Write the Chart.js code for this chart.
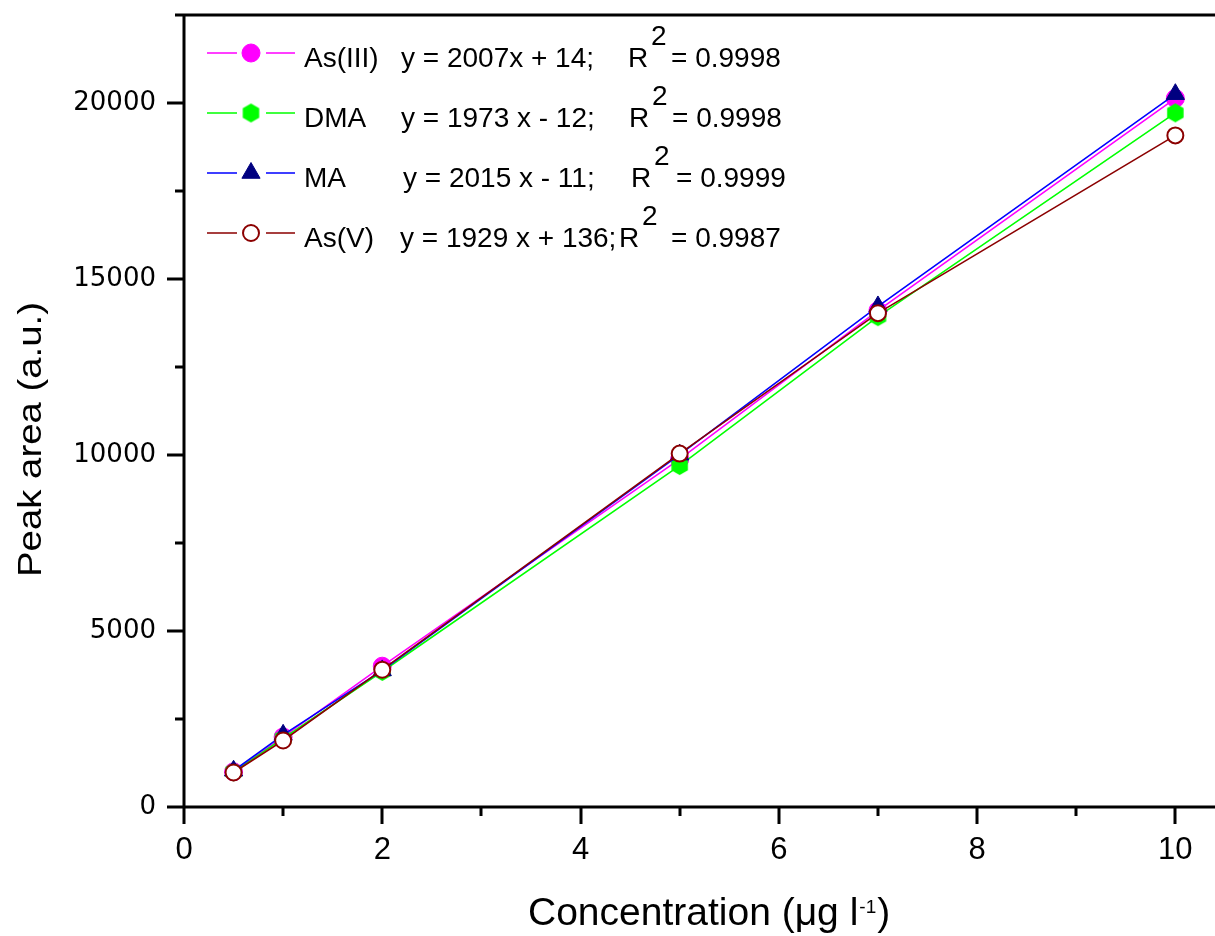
<!DOCTYPE html>
<html>
<head>
<meta charset="utf-8">
<script src="https://cdn.jsdelivr.net/npm/chart.js@4.4.1/dist/chart.umd.min.js"></script>
<style>
  html, body { margin: 0; padding: 0; background: #ffffff; overflow: hidden; }
  canvas { display: block; }
</style>
</head>
<body>
<canvas id="chart" width="1215" height="936"></canvas>
<script>
// Calibration data: peak area vs. concentration for four arsenic species
const concentrations = [0.5, 1, 2, 5, 7, 10];
const asIII = [1000, 1990, 4000, 9880, 14100, 20130];
const dma   = [1000, 1950, 3850, 9700, 13930, 19720];
const ma    = [1030, 2050, 3880, 10010, 14220, 20250];
const asV   = [980, 1890, 3900, 10040, 14030, 19080];

const seriesNames  = ['As(III)', 'DMA', 'MA', 'As(V)'];
const fitEquations = ['y = 2007x + 14;', 'y = 1973 x - 12;', 'y = 2015 x - 11;', 'y = 1929 x + 136;'];
const rSquared     = ['= 0.9998', '= 0.9998', '= 0.9999', '= 0.9987'];

const xTickValues = [0, 1, 2, 3, 4, 5, 6, 7, 8, 9, 10];
const yTickValues = [0, 2500, 5000, 7500, 10000, 12500, 15000, 17500, 20000, 22500];

const xTitleMain = 'Concentration (\u03bcg l';
const xTitleSup = '-1';
const xTitleEnd = ')';
const yTitle = 'Peak area (a.u.)';

const FONT = '"Liberation Sans", Arial, Helvetica, sans-serif';

// filled hexagon marker (pointy top) used for DMA
function hexagonMarker(r, color) {
  const c = document.createElement('canvas');
  const w = Math.ceil(2 * r * Math.cos(Math.PI / 6)) + 2;
  const h = Math.ceil(2 * r) + 2;
  c.width = w; c.height = h;
  const g = c.getContext('2d');
  g.fillStyle = color;
  g.beginPath();
  for (let i = 0; i < 6; i++) {
    const a = -Math.PI / 2 + i * Math.PI / 3;
    const px = w / 2 + r * Math.cos(a), py = h / 2 + r * Math.sin(a);
    if (i) g.lineTo(px, py); else g.moveTo(px, py);
  }
  g.closePath();
  g.fill();
  return c;
}
const hexDMA = hexagonMarker(9.5, '#00ff00');

function pts(values) {
  return concentrations.map((x, i) => ({ x: x, y: values[i] }));
}

const styles = [
  { line: '#ff00ff', fill: '#ff00ff', stroke: '#ff00ff', pointStyle: 'circle', radius: 9, bw: 1 },
  { line: '#00ff00', fill: '#00ff00', stroke: '#00ff00', pointStyle: hexDMA, radius: 9.5, bw: 0 },
  { line: '#0000ff', fill: '#000080', stroke: '#000080', pointStyle: 'triangle', radius: 10.5, bw: 1 },
  { line: '#8b0000', fill: '#ffffff', stroke: '#8b0000', pointStyle: 'circle', radius: 8, bw: 2 }
];
const seriesValues = [asIII, dma, ma, asV];

const datasets = seriesValues.map((vals, i) => ({
  label: seriesNames[i],
  data: pts(vals),
  borderColor: styles[i].line,
  borderWidth: 1.6,
  backgroundColor: styles[i].fill,
  pointBackgroundColor: styles[i].fill,
  pointBorderColor: styles[i].stroke,
  pointBorderWidth: styles[i].bw,
  pointStyle: styles[i].pointStyle,
  pointRadius: styles[i].radius,
  pointHoverRadius: styles[i].radius,
  tension: 0,
  fill: false,
  clip: false,
  order: 3 - i
}));

// frame, outward tick marks, axis titles and the in-plot legend
const decorations = {
  id: 'decorations',
  afterDraw(chart) {
    const ctx = chart.ctx;
    const { left, right, top, bottom } = chart.chartArea;
    const xs = chart.scales.x, ys = chart.scales.y;
    ctx.save();
    ctx.strokeStyle = '#000';
    ctx.lineWidth = 3;
    ctx.lineCap = 'butt';
    ctx.beginPath();
    ctx.moveTo(left - 1.5, top); ctx.lineTo(right + 5, top);
    ctx.moveTo(left, top); ctx.lineTo(left, bottom + 1.5);
    ctx.moveTo(left - 1.5, bottom); ctx.lineTo(right + 5, bottom);
    xTickValues.forEach(v => {
      const p = Math.round(xs.getPixelForValue(v));
      const len = v % 2 === 0 ? 17 : 9;
      ctx.moveTo(p, bottom); ctx.lineTo(p, bottom + len);
    });
    yTickValues.forEach(v => {
      const p = Math.round(ys.getPixelForValue(v));
      const len = v % 5000 === 0 ? 17 : 9;
      ctx.moveTo(left, p); ctx.lineTo(left - len, p);
    });
    ctx.stroke();

    // axis titles
    ctx.fillStyle = '#000';
    ctx.textBaseline = 'alphabetic';
    ctx.textAlign = 'left';
    ctx.font = '39px ' + FONT;
    let tx = 528;
    const ty = 925;
    ctx.fillText(xTitleMain, tx, ty);
    tx += ctx.measureText(xTitleMain).width + 1;
    ctx.font = '19px ' + FONT;
    ctx.fillText(xTitleSup, tx, ty - 12);
    tx += ctx.measureText(xTitleSup).width + 1;
    ctx.font = '39px ' + FONT;
    ctx.fillText(xTitleEnd, tx, ty);

    ctx.save();
    ctx.translate(41, 577);
    ctx.rotate(-Math.PI / 2);
    ctx.font = '34px ' + FONT;
    const yw = ctx.measureText(yTitle).width;
    ctx.scale(275 / yw, 1);
    ctx.fillText(yTitle, 0, 0);
    ctx.restore();

    // legend
    const lineY = [53, 113, 173, 233];
    const eqX = [401, 401, 403, 400];
    const rX = [628, 629, 631, 619];
    const restX = [671, 672, 676, 671];
    for (let i = 0; i < 4; i++) {
      const s = styles[i];
      const y = lineY[i];
      ctx.strokeStyle = s.line;
      ctx.lineWidth = 1.6;
      ctx.beginPath();
      ctx.moveTo(207, y); ctx.lineTo(237, y);
      ctx.moveTo(266, y); ctx.lineTo(295, y);
      ctx.stroke();
      ctx.fillStyle = s.fill;
      ctx.strokeStyle = s.stroke;
      ctx.lineWidth = s.bw;
      Chart.helpers.drawPoint(ctx, { pointStyle: s.pointStyle, radius: s.radius, rotation: 0, borderWidth: s.bw }, 251, y);

      ctx.fillStyle = '#000';
      ctx.font = '28px ' + FONT;
      const base = y + 14;
      ctx.fillText(seriesNames[i], 304, base);
      ctx.fillText(fitEquations[i], eqX[i], base);
      ctx.fillText('R', rX[i], base);
      ctx.fillText('2', rX[i] + 23, base - 22);
      ctx.fillText(rSquared[i], restX[i], base);
    }
    ctx.restore();
  }
};

new Chart(document.getElementById('chart'), {
  type: 'line',
  data: { datasets: datasets },
  options: {
    responsive: false,
    animation: false,
    devicePixelRatio: 1,
    layout: { autoPadding: false, padding: { top: 15, right: 0, bottom: 0, left: 0 } },
    plugins: {
      legend: { display: false },
      tooltip: { enabled: false },
      title: { display: false }
    },
    scales: {
      x: {
        type: 'linear',
        min: 0,
        max: 10.4,
        afterBuildTicks(scale) { scale.ticks = xTickValues.map(v => ({ value: v })); },
        afterFit(scale) {
          scale.height = 129;
          scale.paddingLeft = 0; scale.paddingRight = 0;
          scale.paddingTop = 0; scale.paddingBottom = 0;
        },
        grid: { display: false, drawTicks: false },
        border: { display: false },
        ticks: {
          autoSkip: false,
          maxRotation: 0,
          padding: 25,
          color: '#000',
          font: { family: FONT, size: 31 },
          callback: v => (v % 2 === 0 ? String(v) : '')
        }
      },
      y: {
        type: 'linear',
        min: 0,
        max: 22500,
        afterBuildTicks(scale) { scale.ticks = yTickValues.map(v => ({ value: v })); },
        afterFit(scale) {
          scale.width = 184;
          scale.paddingLeft = 0; scale.paddingRight = 0;
          scale.paddingTop = 0; scale.paddingBottom = 0;
        },
        grid: { display: false, drawTicks: false },
        border: { display: false },
        ticks: {
          autoSkip: false,
          padding: 28,
          color: '#000',
          font: { family: '"DejaVu Sans", sans-serif', size: 26 },
          callback: v => (v % 5000 === 0 ? String(v) : '')
        }
      }
    }
  },
  plugins: [decorations]
});
</script>
</body>
</html>
